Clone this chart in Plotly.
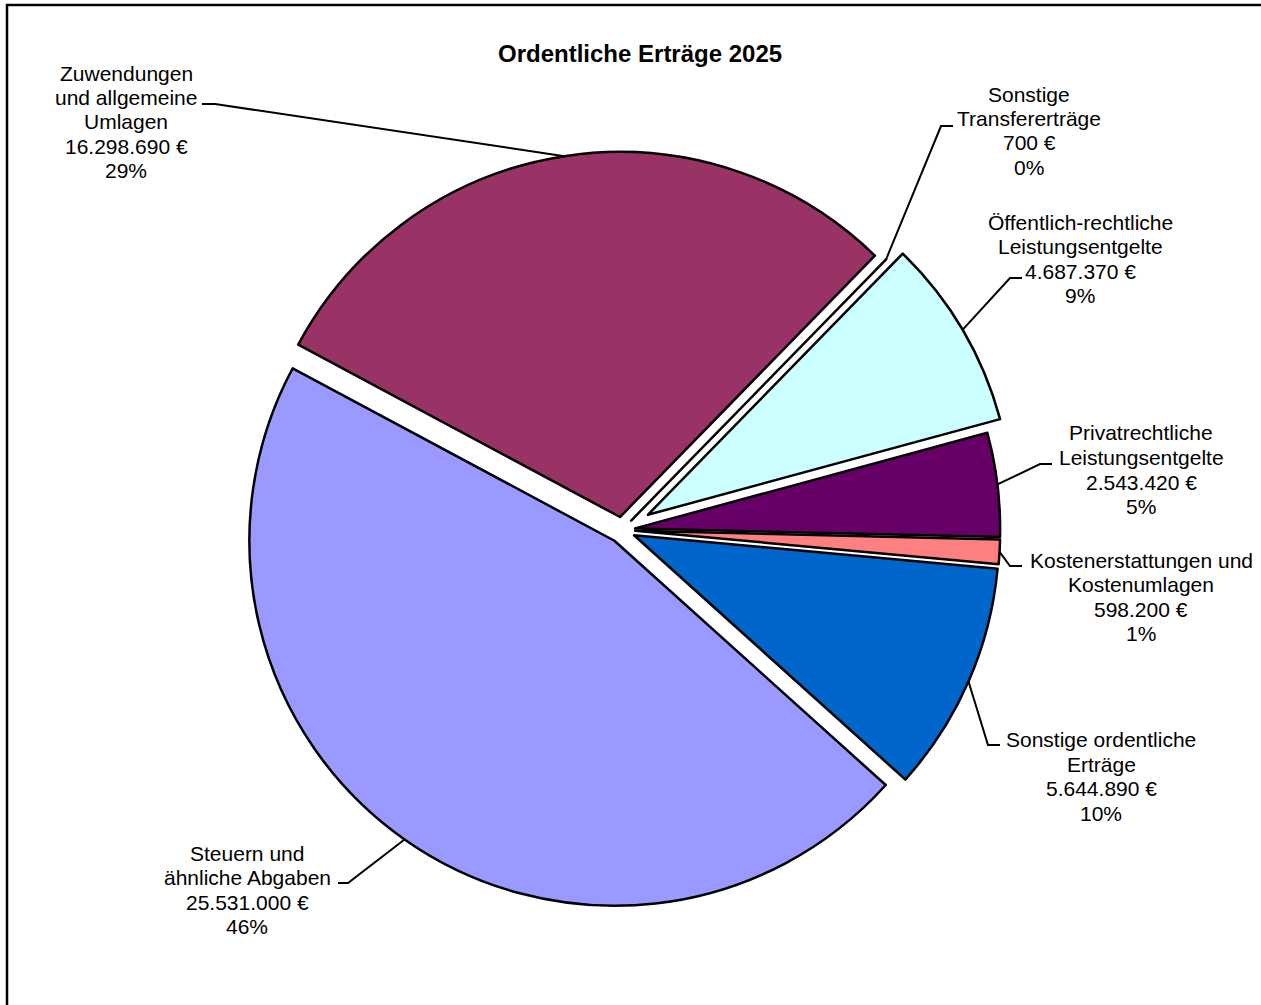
import math
import plotly.graph_objects as go

W, H = 1261, 1005

# ---------------- data ----------------
categories = [
    "Steuern und ähnliche Abgaben",
    "Zuwendungen und allgemeine Umlagen",
    "Sonstige Transfererträge",
    "Öffentlich-rechtliche Leistungsentgelte",
    "Privatrechtliche Leistungsentgelte",
    "Kostenerstattungen und Kostenumlagen",
    "Sonstige ordentliche Erträge",
]
values = [25531000, 16298690, 700, 4687370, 2543420, 598200, 5644890]
percent_labels = ["46%", "29%", "0%", "9%", "5%", "1%", "10%"]
name_lines = [
    ["Steuern und", "ähnliche Abgaben"],
    ["Zuwendungen", "und allgemeine", "Umlagen"],
    ["Sonstige", "Transfererträge"],
    ["Öffentlich-rechtliche", "Leistungsentgelte"],
    ["Privatrechtliche", "Leistungsentgelte"],
    ["Kostenerstattungen und", "Kostenumlagen"],
    ["Sonstige ordentliche", "Erträge"],
]
title_text = "Ordentliche Erträge 2025"

# ---------------- styling / layout ----------------
colors = ["#9999FF", "#993366", "#FFFFCC", "#CCFFFF", "#660066", "#FF8080", "#0066CC"]
pulls = [0.036, 0.036, 0.036, 0.082, 0.036, 0.036, 0.036]
CX, CY, BOX = 622, 530, 790
ROTATION = 132
FONT = "Liberation Sans, Arial, sans-serif"
FS = 21
LINE_H = 24.5
label_pos = [(247, 853), (126, 73), (1029, 94), (1080, 222), (1141, 433), (1141, 560), (1101, 739.5)]
stubs = [(338, 348, 883), (202, 215, 104), (953, 941, 126), (1022, 1010, 278),
         (1052, 1040, 464), (1022, 1010, 566), (1000, 988, 745)]


def px(x):
    return x / W


def py(y):
    return 1 - y / H


fig = go.Figure(go.Pie(
    labels=categories,
    values=values,
    sort=False,
    direction="clockwise",
    rotation=ROTATION,
    pull=pulls,
    marker=dict(colors=colors, line=dict(color="black", width=2.5)),
    textinfo="none",
    hoverinfo="skip",
    showlegend=False,
    domain=dict(x=[px(CX - BOX / 2), px(CX + BOX / 2)],
                y=[py(CY + BOX / 2), py(CY - BOX / 2)]),
))

# geometry (same as plotly's pie computation) for leader lines
total = sum(values)
r = BOX / (2 + 2 * max(pulls))
shapes = []
annotations = []
ang = ROTATION
for i, v in enumerate(values):
    span = 360.0 * v / total
    mid = math.radians(ang + span / 2)
    ang += span
    dx, dy = math.sin(mid), -math.cos(mid)
    ex = CX + r * (1 + pulls[i]) * dx
    ey = CY + r * (1 + pulls[i]) * dy
    sx0, sx1, sy = stubs[i]
    path = f"M {px(sx0)},{py(sy)} L {px(sx1)},{py(sy)} L {px(ex)},{py(ey)}"
    shapes.append(dict(type="path", path=path, xref="paper", yref="paper",
                       line=dict(color="black", width=2)))

    lines = name_lines[i] + [f"{v:,}".replace(",", ".") + " €", percent_labels[i]]
    lx, ly = label_pos[i]
    for k, t in enumerate(lines):
        annotations.append(dict(text=t, x=px(lx), y=py(ly + k * LINE_H), xref="paper", yref="paper",
                                xanchor="center", yanchor="middle", showarrow=False,
                                font=dict(family=FONT, size=FS, color="black")))

annotations.append(dict(text="<b>" + title_text + "</b>", x=px(640), y=py(53), xref="paper", yref="paper",
                        xanchor="center", yanchor="middle", showarrow=False,
                        font=dict(family=FONT, size=24, color="black")))

# outer frame (only left and top edges are visible in the reference)
frame = f"M {px(7)},{py(1040)} L {px(7)},{py(5)} L {px(1300)},{py(5)}"
shapes.append(dict(type="path", xref="paper", yref="paper", path=frame,
                   line=dict(color="black", width=2.5)))

fig.update_layout(
    width=W, height=H, autosize=False,
    margin=dict(l=0, r=0, t=0, b=0),
    paper_bgcolor="white", plot_bgcolor="white",
    shapes=shapes, annotations=annotations,
    showlegend=False,
)

fig.write_html("out.html")
